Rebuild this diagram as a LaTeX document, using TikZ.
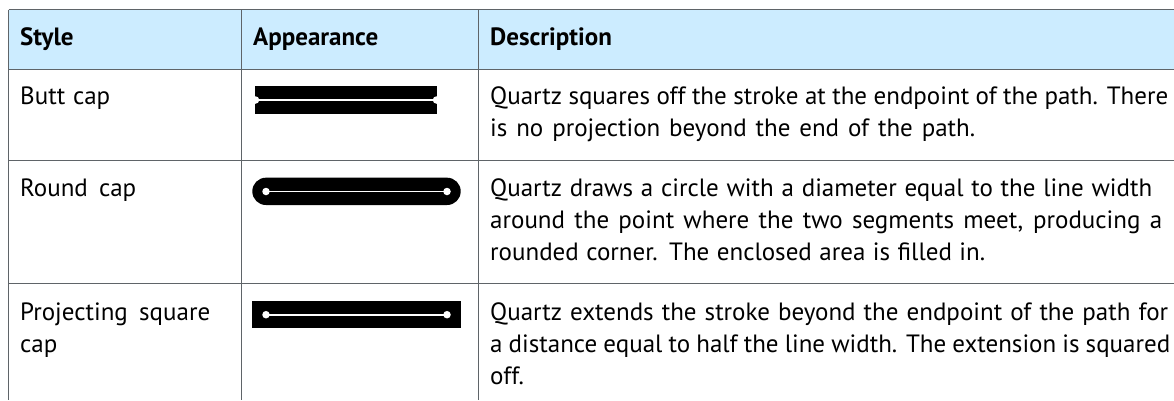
\documentclass[tikz,border=0pt]{standalone}
\usepackage{fontspec}
\setmainfont{PT Sans}
\newcommand{\fitline}[2]{\makebox[#1pt][s]{#2}}
\tikzset{
  rule/.style={draw=gridgray,line width=0.9pt},
  cell/.style={anchor=base west,inner sep=0pt,font=\fontsize{25pt}{30pt}\selectfont,text=black},
  head/.style={cell,font=\fontsize{25pt}{30pt}\selectfont\bfseries},
  dot/.style={circle,fill=white,draw=none,minimum size=7.5pt,inner sep=0pt},
}
\definecolor{gridgray}{HTML}{5F6468}
\definecolor{headblue}{HTML}{CCECFF}
\begin{document}
\begin{tikzpicture}[x=1pt,y=-1pt]
\useasboundingbox (0,0) rectangle (1174,400);
\fill[white] (0,0) rectangle (1174,400);
\fill[headblue] (8.5,9.5) rectangle (1174,69);
\draw[rule] (8.5,9.5) -- (1174,9.5);
\draw[rule] (8.5,69) -- (1174,69);
\draw[rule] (8.5,160) -- (1174,160);
\draw[rule] (8.5,283.5) -- (1174,283.5);
\draw[rule] (8.5,9.5) -- (8.5,400);
\draw[rule] (241.5,9.5) -- (241.5,400);
\draw[rule] (478.5,9.5) -- (478.5,400);
\node[head] (h1) at (20,45) {Style};
\node[head] (h2) at (253,45) {Appearance};
\node[head] (h3) at (490,45) {Description};
\node[cell] (r1a) at (20,104) {\fitline{90}{Butt cap}};
\node[cell] (r2a) at (20,196) {\fitline{116}{Round cap}};
\node[cell] (r3a) at (20,320) {\fitline{190}{Projecting square}};
\node[cell] (r3b) at (20,352) {cap};
\node[cell] (d1) at (490,104) {\fitline{678}{Quartz squares off the stroke at the endpoint of the path. There}};
\node[cell] (d2) at (490,136) {\fitline{485}{is no projection beyond the end of the path.}};
\node[cell] (d3) at (490,196) {\fitline{662}{Quartz draws a circle with a diameter equal to the line width}};
\node[cell] (d4) at (490,228) {\fitline{672}{around the point where the two segments meet, producing a}};
\node[cell] (d5) at (490,260) {\fitline{495}{rounded corner. The enclosed area is filled in.}};
\node[cell] (d6) at (490,320) {\fitline{678}{Quartz extends the stroke beyond the endpoint of the path for}};
\node[cell] (d7) at (490,352) {\fitline{680}{a distance equal to half the line width. The extension is squared}};
\node[cell] (d8) at (490,384) {off.};
% butt
\fill[black] (255,86) rectangle (436.7,113.7);
\draw[white,line width=1.6pt] (256,100) -- (436,100);
\node[dot] (b1) at (255.5,100) {};
\node[dot] (b2) at (436.5,100) {};
% round
\fill[black,rounded corners=13.6pt] (252.3,177.7) rectangle (460.7,205);
\draw[white,line width=1.6pt] (266,191.5) -- (447,191.5);
\node[dot] (c1) at (266,191.5) {};
\node[dot] (c2) at (447,191.5) {};
% square
\fill[black] (252.3,301.3) rectangle (460.7,328.3);
\draw[white,line width=1.6pt] (266,314.7) -- (447,314.7);
\node[dot] (s1) at (266,314.7) {};
\node[dot] (s2) at (447,314.7) {};
\end{tikzpicture}
\end{document}
